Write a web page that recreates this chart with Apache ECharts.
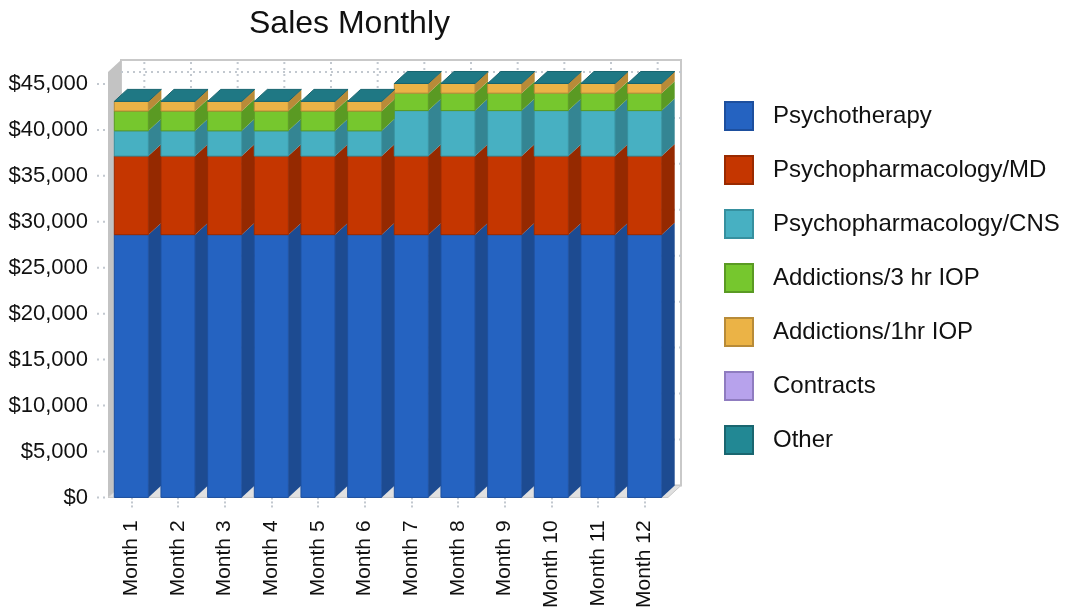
<!DOCTYPE html>
<html lang="en">
<head>
<meta charset="UTF-8">
<title>Sales Monthly</title>
<script src="https://cdn.jsdelivr.net/npm/echarts@6/dist/echarts.min.js"></script>
</head>
<body style="margin:0;background:#fff">
<div id="box" style="width:1069px;height:611px;"></div>
<script>
var months = ['Month 1', 'Month 2', 'Month 3', 'Month 4', 'Month 5', 'Month 6',
    'Month 7', 'Month 8', 'Month 9', 'Month 10', 'Month 11', 'Month 12']
var psychotherapy = [28600, 28600, 28600, 28600, 28600, 28600, 28600, 28600, 28600, 28600, 28600, 28600]
var psychMD = [8550, 8550, 8550, 8550, 8550, 8550, 8550, 8550, 8550, 8550, 8550, 8550]
var psychCNS = [2750, 2750, 2750, 2750, 2750, 2750, 4950, 4950, 4950, 4950, 4950, 4950]
var addict3hr = [2150, 2150, 2150, 2150, 2150, 2150, 1900, 1900, 1900, 1900, 1900, 1900]
var addict1hr = [1050, 1050, 1050, 1050, 1050, 1050, 1050, 1050, 1050, 1050, 1050, 1050]
var contracts = [0, 0, 0, 0, 0, 0, 0, 0, 0, 0, 0, 0]
var other = [0, 0, 0, 0, 0, 0, 0, 0, 0, 0, 0, 0]
var yTicks = [0, 5000, 10000, 15000, 20000, 25000, 30000, 35000, 40000, 45000]

var names = ['Psychotherapy', 'Psychopharmacology/MD', 'Psychopharmacology/CNS',
    'Addictions/3 hr IOP', 'Addictions/1hr IOP', 'Contracts', 'Other']
var values = [psychotherapy, psychMD, psychCNS, addict3hr, addict1hr, contracts, other]
var colors = ['#2563c1', '#c53600', '#47b0c2', '#76c72e', '#ebb346', '#b7a2ec', '#228894']
var sides = ['#1d4b91', '#952900', '#348593', '#5a9a23', '#b88b38', '#8f7cc0', '#1a6a74']
var edges = ['#1d4f9e', '#9a2a00', '#36909f', '#5a9a23', '#b88b38', '#8f7cc0', '#1a6670']
var DX = 13, DY = 12
var font = 'Liberation Sans, Arial, Helvetica, sans-serif'

var mChart = echarts.init(document.querySelector('#box'))

// walls, floor and dotted grid of the 3d box
function frameItem(params, api) {
    var c = params.coordSys
    var x = c.x, y = c.y, w = c.width, h = c.height
    var kids = []
    kids.push({type: 'rect', shape: {x: x + DX, y: y - DY, width: w, height: h},
        style: {fill: '#fff', stroke: '#c9c9c9', lineWidth: 2}})
    kids.push({type: 'polygon', shape: {points: [[x, y], [x + DX, y - DY], [x + DX, y + h - DY], [x, y + h]]},
        style: {fill: '#c3c3c3'}})
    kids.push({type: 'polygon', shape: {points: [[x, y + h], [x + w, y + h], [x + w + DX, y + h - DY], [x + DX, y + h - DY]]},
        style: {fill: '#e0e0e0', stroke: '#c9c9c9', lineWidth: 1}})
    var dot = {stroke: '#c2c8cf', lineWidth: 2, lineDash: [2, 4]}
    for (var t = 0; t < yTicks.length; t++) {
        var p = api.coord([0, yTicks[t]])
        if (yTicks[t] > 0) {
            kids.push({type: 'line', shape: {x1: x + DX, y1: p[1] - DY, x2: x + w + DX, y2: p[1] - DY}, style: dot})
        }
        kids.push({type: 'line', shape: {x1: x - 11, y1: p[1], x2: x - 1, y2: p[1]}, style: dot})
    }
    for (var i = 0; i < months.length; i++) {
        var q = api.coord([i, 0])
        kids.push({type: 'line', shape: {x1: q[0] + DX, y1: y - DY + 2, x2: q[0] + DX, y2: y + h - DY}, style: dot})
    }
    return {type: 'group', children: kids}
}

function barItem(k) {
    return function (params, api) {
        var i = api.value(0), lo = api.value(1), hi = api.value(2)
        var p0 = api.coord([i, lo]), p1 = api.coord([i, hi])
        var bw = api.size([1, 0])[0] * 0.73
        var x0 = p0[0] - bw / 2, x1 = p0[0] + bw / 2
        var kids = []
        if (p0[1] - p1[1] > 0.01) {
            kids.push({type: 'polygon', shape: {points: [[x1, p1[1]], [x1 + DX, p1[1] - DY], [x1 + DX, p0[1] - DY], [x1, p0[1]]]},
                style: {fill: sides[k]}})
            kids.push({type: 'rect', shape: {x: x0, y: p1[1], width: bw, height: p0[1] - p1[1]},
                style: {fill: colors[k], stroke: edges[k], lineWidth: 1}})
        }
        if (k == names.length - 1) {
            // lid on top of the stack
            kids.push({type: 'polygon', shape: {points: [[x0, p1[1]], [x1, p1[1]], [x1 + DX, p1[1] - DY], [x0 + DX, p1[1] - DY]]},
                style: {fill: '#1f7884', stroke: '#17646e', lineWidth: 1}})
        }
        return {type: 'group', children: kids}
    }
}

var series = [{
    name: 'frame',
    type: 'custom',
    silent: true,
    z: 1,
    renderItem: frameItem,
    data: [[0, 0]]
}]
var base = months.map(function () { return 0 })
for (var k = 0; k < names.length; k++) {
    var rows = []
    for (var i = 0; i < months.length; i++) {
        rows.push([i, base[i], base[i] + values[k][i]])
        base[i] += values[k][i]
    }
    series.push({
        name: names[k],
        type: 'custom',
        z: 2,
        renderItem: barItem(k),
        itemStyle: {color: colors[k]},
        encode: {x: 0, y: [1, 2]},
        data: rows
    })
}

var option = {
    animation: false,
    textStyle: {fontFamily: font},
    title: {
        text: 'Sales Monthly',
        left: 244,
        top: 3,
        textStyle: {fontSize: 32, fontWeight: 'normal', color: '#111', fontFamily: font}
    },
    legend: {
        orient: 'vertical',
        left: 719,
        top: 96,
        itemWidth: 28,
        itemHeight: 28,
        itemGap: 24,
        selectedMode: false,
        textStyle: {fontSize: 24, color: '#111', padding: [0, 0, 0, 15], fontFamily: font},
        data: names.map(function (n, k) {
            return {name: n, icon: 'rect', itemStyle: {color: colors[k], borderColor: edges[k], borderWidth: 2}}
        })
    },
    grid: {left: 108, right: 401, top: 72, bottom: 109},
    xAxis: {
        type: 'category',
        data: months,
        axisLine: {show: false},
        axisTick: {show: true, alignWithLabel: true, length: 12, lineStyle: {color: '#c2c8cf', type: 'dotted', width: 2}},
        axisLabel: {rotate: 90, interval: 0, fontSize: 21, color: '#111', margin: 23}
    },
    yAxis: {
        type: 'value',
        min: 0,
        max: 46300,
        interval: 5000,
        axisLine: {show: false},
        axisTick: {show: false},
        splitLine: {show: false},
        axisLabel: {
            fontSize: 22, color: '#111', margin: 20, showMaxLabel: false,
            formatter: function (v) { return '$' + v.toString().replace(/\B(?=(\d{3})+(?!\d))/g, ',') }
        }
    },
    series: series
}
mChart.setOption(option)
</script>
</body>
</html>
